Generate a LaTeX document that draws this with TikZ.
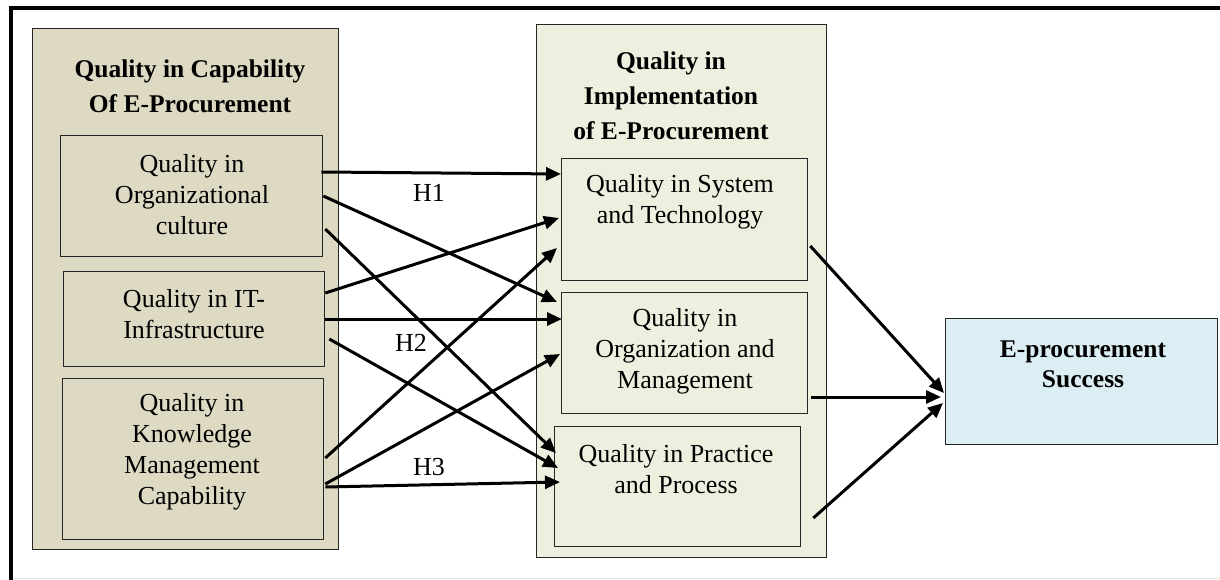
\documentclass[tikz,border=0pt]{standalone}
\usepackage{fontspec}
\setmainfont{Liberation Serif}
\usetikzlibrary{arrows.meta,calc}
\definecolor{tanc}{HTML}{DDD9C3}
\definecolor{greenc}{HTML}{EBF1DE}
\definecolor{bluec}{HTML}{DBEEF4}
\tikzset{
  boxframe/.style={draw=black!85, line width=1.3pt, inner sep=0pt, anchor=north west},
  txt/.style={font=\fontsize{26}{31}\selectfont, align=center, inner sep=0pt},
  btxt/.style={font=\fontsize{25.5}{35}\selectfont\bfseries, align=center, inner sep=0pt},
  arr/.style={line width=3pt, -{Triangle[length=15pt,width=13pt]}}
}
\begin{document}
\begin{tikzpicture}[x=1pt,y=-1pt]
\useasboundingbox (0,0) rectangle (1220,580);
% outer frame
\draw[black!10, line width=1pt] (13,578.5) -- (1220,578.5);
\draw[line width=4pt] (11,580) -- (11,8) -- (1220,8);
% big containers
\node[boxframe, fill=tanc, minimum width=306pt, minimum height=521pt] (L) at (32,28) {};
\node[boxframe, fill=greenc, minimum width=290pt, minimum height=533pt] (M) at (536,24) {};
% left boxes
\node[boxframe, fill=tanc, minimum width=262pt, minimum height=121pt] (b1) at (60,135) {};
\node[boxframe, fill=tanc, minimum width=261pt, minimum height=95pt] (b2) at (63,271) {};
\node[boxframe, fill=tanc, minimum width=261pt, minimum height=161pt] (b3) at (62,378) {};
% middle boxes
\node[boxframe, fill=greenc, minimum width=246pt, minimum height=122pt] (s1) at (561,158) {};
\node[boxframe, fill=greenc, minimum width=246pt, minimum height=121pt] (s2) at (561,292) {};
\node[boxframe, fill=greenc, minimum width=246pt, minimum height=120pt] (s3) at (554,426) {};
% success box
\node[boxframe, fill=bluec, minimum width=272pt, minimum height=126pt] (E) at (945,318) {};
% texts
\node[btxt] (tL) at (190,86) {Quality in Capability\\Of E-Procurement};
\node[btxt] (tM) at (671,96) {Quality in\\Implementation\\of E-Procurement};
\node[txt] (t1) at (192,194.5) {Quality in\\Organizational\\culture};
\node[txt] (t2) at (194,314) {Quality in IT-\\Infrastructure};
\node[txt] (t3) at (192,451.5) {Quality in\\Knowledge\\Management\\Capability};
\node[txt] (u1) at (680,201.5) {Quality in System\\and Technology};
\node[txt] (u2) at (685,351) {Quality in\\Organization and\\Management};
\node[txt] (u3) at (676,469.5) {Quality in Practice\\and Process};
\node[btxt, font=\fontsize{25.5}{30}\selectfont\bfseries] (tE) at (1083,364) {E-procurement\\Success};
% hypothesis labels
\node[txt] (h1) at (429,193) {H1};
\node[txt] (h2) at (411,343) {H2};
\node[txt] (h3) at (429,467) {H3};
% arrows left -> middle
\draw[arr] ($(b1.north east)+(-2,37)$) -- ($(s1.north west)+(0,16)$);
\draw[arr] ($(b1.north east)+(0,61)$) -- ($(s2.north west)+(-4,10)$);
\draw[arr] ($(b1.north east)+(2,94)$) -- ($(s3.north west)+(2,27)$);
\draw[arr] ($(b2.north east)+(0,22)$) -- ($(s1.north west)+(-2,60)$);
\draw[arr] ($(b3.north east)+(1,80)$) -- ($(s1.north west)+(-4,90)$);
\draw[arr] ($(b2.north east)+(0,48)$) -- ($(s2.north west)+(1,27)$);
\draw[arr] ($(b2.north east)+(4,68)$) -- ($(s3.north west)+(4,42)$);
\draw[arr] ($(b3.north east)+(1,106)$) -- ($(s2.north west)+(-1,62)$);
\draw[arr] ($(b3.north east)+(1,109)$) -- ($(s3.north west)+(6,56)$);
% arrows middle -> success
\draw[arr] ($(s1.north east)+(2,88)$) -- ($(E.north west)+(-1,75)$);
\draw[arr] ($(s2.north east)+(3,105)$) -- ($(E.north west)+(-4,79)$);
\draw[arr] ($(s3.north east)+(12,92)$) -- ($(E.north west)+(-2,85)$);
\end{tikzpicture}
\end{document}
